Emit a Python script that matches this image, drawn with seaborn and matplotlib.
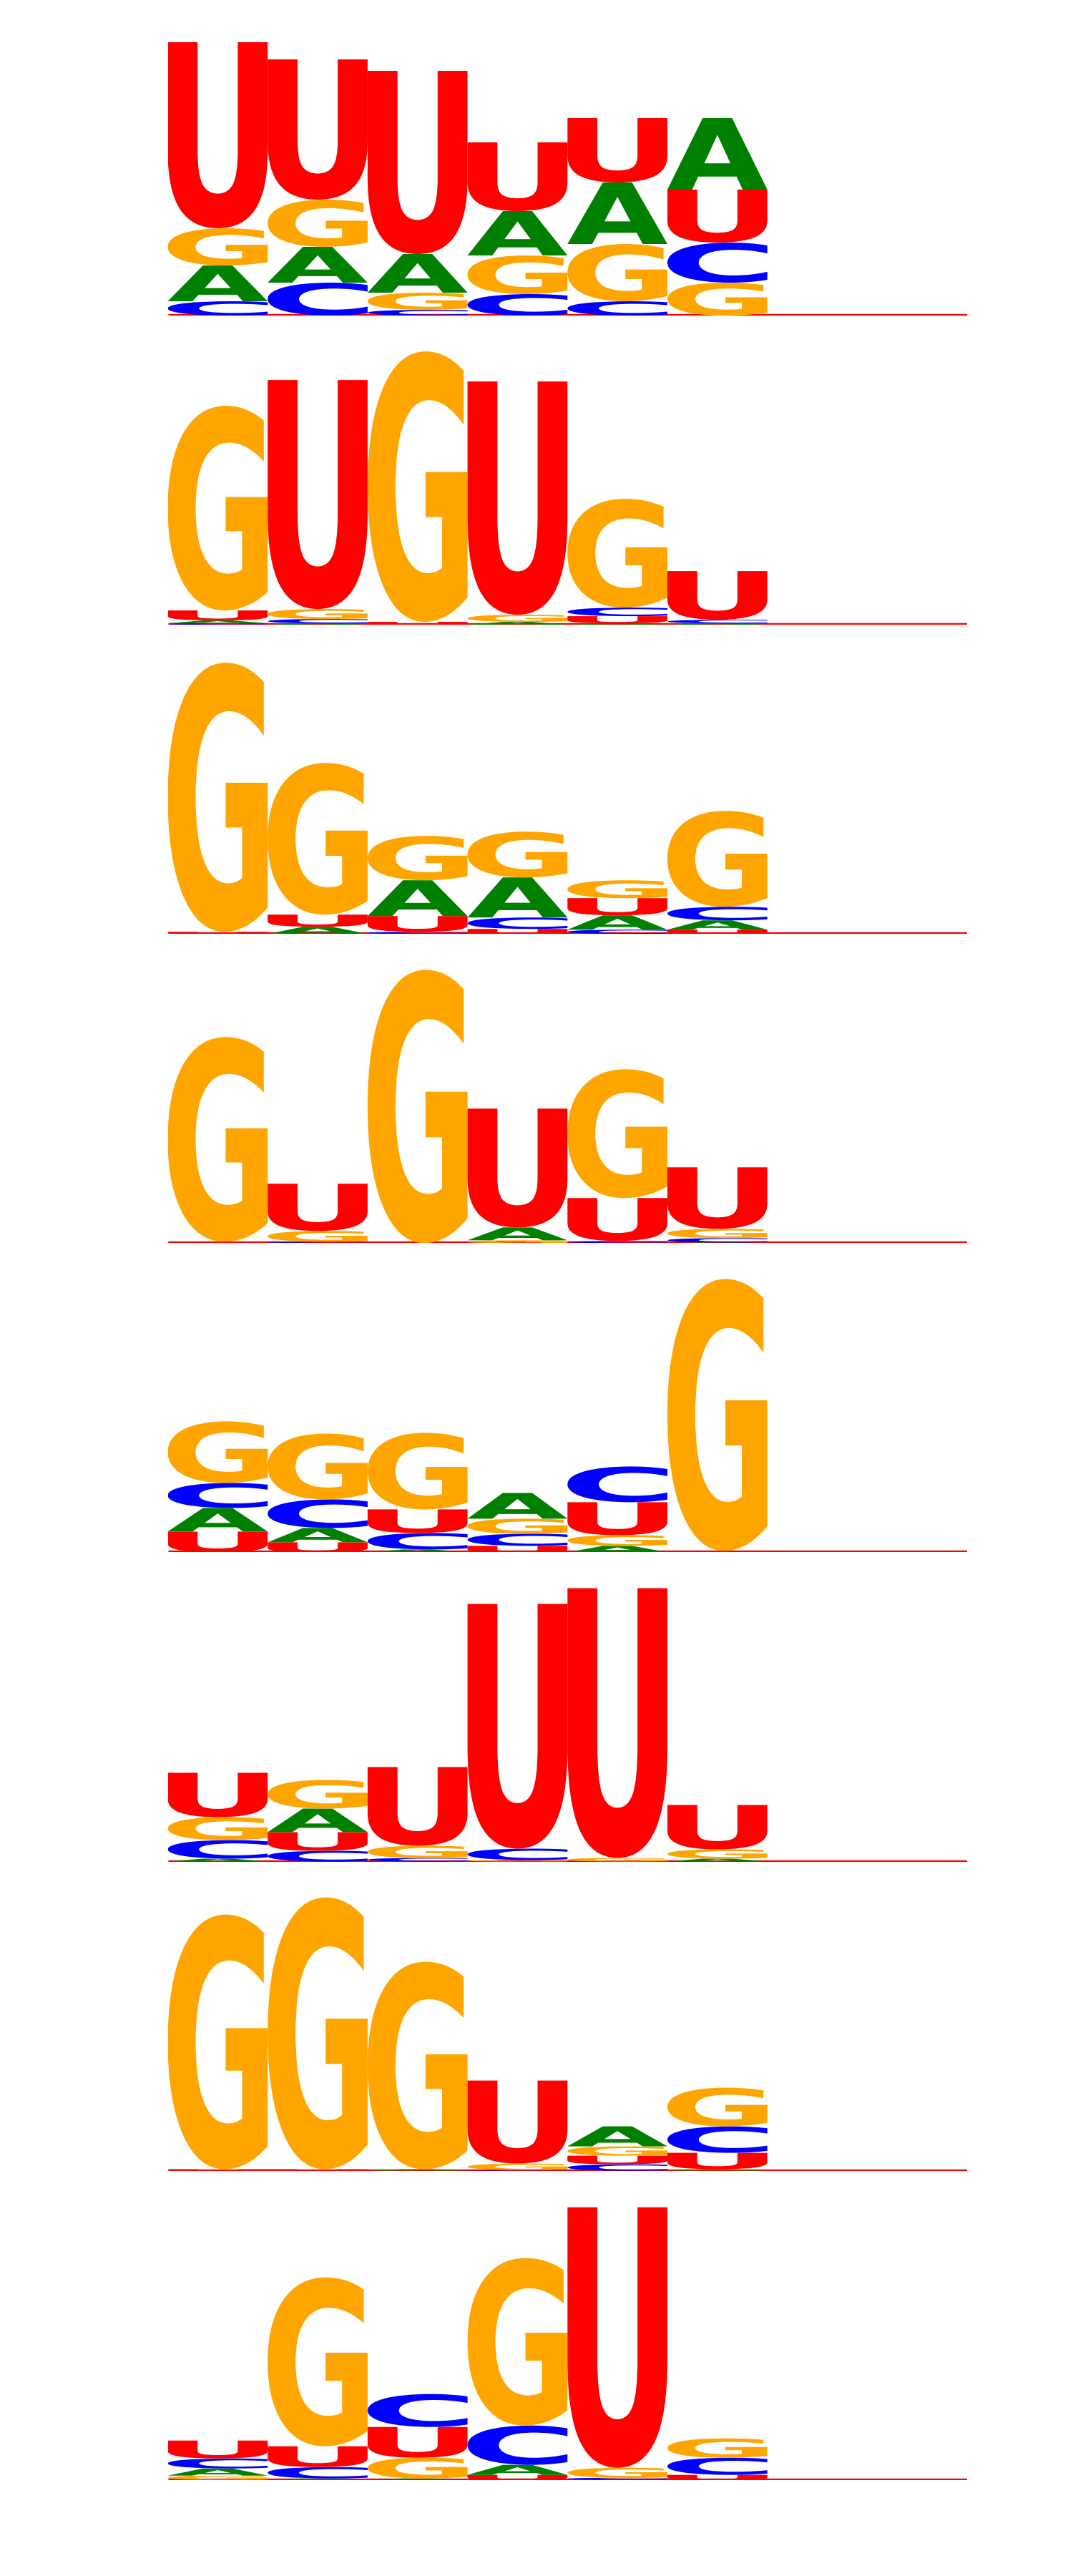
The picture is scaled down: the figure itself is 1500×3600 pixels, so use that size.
import numpy as np
import pandas as pd
import matplotlib
matplotlib.use("Agg")
import matplotlib.pyplot as plt
import seaborn as sns
from matplotlib.textpath import TextPath
from matplotlib.patches import PathPatch
from matplotlib.font_manager import FontProperties
from matplotlib.transforms import Affine2D

# ---------------- data (information content, bits) ----------------
positions = [1, 2, 3, 4, 5, 6, 7, 8]
letters = ["A", "C", "G", "U"]

A_bits = [
    [0.25, 0.25, 0.27, 0.31, 0.43, 0.50, 0, 0],
    [0.02, 0.01, 0.00, 0.02, 0.01, 0.01, 0, 0],
    [0.00, 0.05, 0.25, 0.28, 0.10, 0.065, 0, 0],
    [0.00, 0.00, 0.00, 0.09, 0.00, 0.005, 0, 0],
    [0.165, 0.10, 0.02, 0.18, 0.045, 0.00, 0, 0],
    [0.02, 0.165, 0.00, 0.00, 0.00, 0.02, 0, 0],
    [0.00, 0.00, 0.01, 0.00, 0.14, 0.01, 0, 0],
    [0.05, 0.01, 0.01, 0.07, 0.00, 0.00, 0, 0],
]
C_bits = [
    [0.10, 0.23, 0.04, 0.15, 0.10, 0.28, 0, 0],
    [0.01, 0.03, 0.00, 0.00, 0.06, 0.025, 0, 0],
    [0.00, 0.00, 0.015, 0.08, 0.03, 0.095, 0, 0],
    [0.00, 0.01, 0.00, 0.00, 0.015, 0.03, 0, 0],
    [0.175, 0.20, 0.115, 0.085, 0.25, 0.00, 0, 0],
    [0.13, 0.075, 0.025, 0.08, 0.00, 0.00, 0, 0],
    [0.00, 0.00, 0.00, 0.005, 0.045, 0.185, 0, 0],
    [0.07, 0.08, 0.23, 0.275, 0.015, 0.12, 0, 0],
]
G_bits = [
    [0.26, 0.33, 0.12, 0.27, 0.40, 0.23, 0, 0],
    [1.43, 0.07, 1.89, 0.05, 0.76, 0.00, 0, 0],
    [1.88, 1.06, 0.31, 0.32, 0.125, 0.67, 0, 0],
    [1.43, 0.075, 1.91, 0.02, 0.90, 0.065, 0, 0],
    [0.43, 0.46, 0.535, 0.105, 0.075, 1.90, 0, 0],
    [0.16, 0.20, 0.085, 0.01, 0.025, 0.065, 0, 0],
    [1.78, 1.90, 1.45, 0.045, 0.065, 0.27, 0, 0],
    [0.03, 1.18, 0.145, 1.17, 0.07, 0.135, 0, 0],
]
U_bits = [
    [1.30, 0.98, 1.28, 0.48, 0.45, 0.37, 0, 0],
    [0.07, 1.60, 0.02, 1.63, 0.05, 0.34, 0, 0],
    [0.015, 0.085, 0.11, 0.035, 0.12, 0.03, 0, 0],
    [0.01, 0.33, 0.00, 0.83, 0.30, 0.43, 0, 0],
    [0.145, 0.07, 0.165, 0.045, 0.23, 0.01, 0, 0],
    [0.31, 0.13, 0.55, 1.71, 1.885, 0.31, 0, 0],
    [0.01, 0.01, 0.00, 0.58, 0.06, 0.115, 0, 0],
    [0.125, 0.145, 0.215, 0.035, 1.82, 0.035, 0, 0],
]

letter_colors = {"A": "#008000", "C": "#0000FF", "G": "#FFA500", "U": "#FF0000"}

# ---------------- drawing ----------------
sns.set_style("white")
plt.rcParams["font.family"] = ["DejaVu Sans"]

fp = FontProperties(family="DejaVu Sans", weight="bold")
glyph_cache = {}


def glyph(ch):
    if ch not in glyph_cache:
        glyph_cache[ch] = TextPath((0, 0), ch, size=1, prop=fp)
    return glyph_cache[ch]


def draw_letter(ax, ch, x, y0, h, width=1.0):
    if h <= 0:
        return
    tp = glyph(ch)
    bb = tp.get_extents()
    tr = (Affine2D()
          .translate(-bb.x0, -bb.y0)
          .scale(width / bb.width, h / bb.height)
          .translate(x - width / 2, y0))
    ax.add_patch(PathPatch(tr.transform_path(tp), facecolor=letter_colors[ch],
                           edgecolor="none", lw=0, zorder=3))


W, H = 1500, 3600
fig = plt.figure(figsize=(W / 100, H / 100), dpi=100)

first_base = 441.0
spacing = 432.1
left_px = 234.5
col_px = 139.7
px_per_bit = 200.0
ax_h_px = 420.0

n_panels = len(A_bits)
for p in range(n_panels):
    base = first_base + p * spacing
    ax = fig.add_axes([left_px / W, 1 - base / H,
                       col_px * len(positions) / W, ax_h_px / H])
    df = pd.DataFrame({"A": A_bits[p], "C": C_bits[p],
                       "G": G_bits[p], "U": U_bits[p]}, index=positions)
    for pos, row in df.iterrows():
        y = 0.0
        for ch, val in sorted(row.items(), key=lambda kv: kv[1]):
            draw_letter(ax, ch, pos, y, val)
            y += val
    ax.axhline(0, color="#FF0000", lw=3.9, zorder=1, solid_capstyle="butt")
    ax.set_xlim(positions[0] - 0.5, positions[-1] + 0.5)
    ax.set_ylim(0, ax_h_px / px_per_bit)
    ax.axis("off")

fig.savefig("out.png", dpi=100)
